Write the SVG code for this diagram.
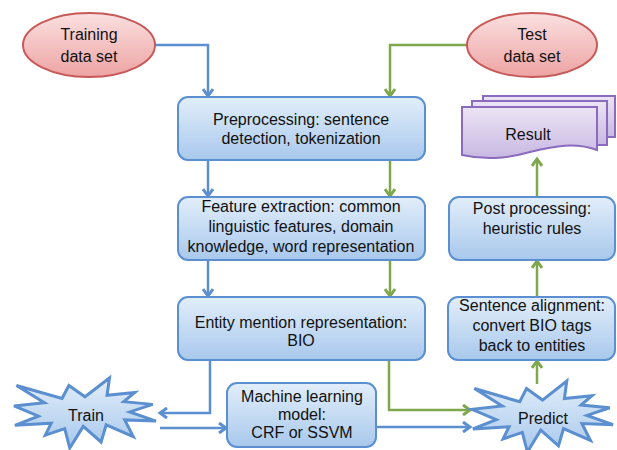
<svg xmlns="http://www.w3.org/2000/svg" width="617" height="450" viewBox="0 0 617 450">
<defs>
<linearGradient id="gBlue" x1="0" y1="0" x2="0" y2="1"><stop offset="0" stop-color="#e2eefa"/><stop offset="1" stop-color="#a8c8ec"/></linearGradient>
<linearGradient id="gPink" x1="0" y1="0" x2="0" y2="1"><stop offset="0" stop-color="#fbe0e0"/><stop offset="1" stop-color="#eda3a3"/></linearGradient>
<linearGradient id="gPurple" x1="0" y1="0" x2="0" y2="1"><stop offset="0" stop-color="#ece4f5"/><stop offset="1" stop-color="#c8b8e2"/></linearGradient>
<marker id="aBlue" markerWidth="12" markerHeight="12" refX="9" refY="6" orient="auto" markerUnits="userSpaceOnUse"><polyline points="2,1 9,6 2,11" fill="none" stroke="#5b8fd0" stroke-width="3"/></marker>
<marker id="aGreen" markerWidth="12" markerHeight="12" refX="9" refY="6" orient="auto" markerUnits="userSpaceOnUse"><polyline points="2,1 9,6 2,11" fill="none" stroke="#7ea74e" stroke-width="3"/></marker>
<polygon id="burstShape" vector-effect="non-scaling-stroke" points="108,58 145.22,0 141.55,53.25 183.8,44.57 167.02,73.15 210.97,81.37 176.07,104.75 216,132.9 168.37,129.42 181.45,180.95 140.2,144.57 132.47,197.37 105.32,149.35 84.85,216 77.15,156.27 47.62,176.17 56.67,139.37 1.35,145.87 37.22,117.75 0,86.15 46.27,76.17 3.7,22.95 73.12,63.2 83.52,22.95"/>
</defs>
<style>
.box{fill:url(#gBlue);stroke:#5b8fd0;stroke-width:2}
.ell{fill:url(#gPink);stroke:#c75a58;stroke-width:2}
.doc{fill:url(#gPurple);stroke:#8a6bbd;stroke-width:2}
.burst{fill:url(#gBlue);stroke:#5b8fd0;stroke-width:3;stroke-linejoin:miter}
.t{font-family:"Liberation Sans",Arial,sans-serif;font-size:16px;fill:#111;text-anchor:middle}
.cb{fill:none;stroke:#5b8fd0;stroke-width:2.5;marker-end:url(#aBlue)}
.cg{fill:none;stroke:#7ea74e;stroke-width:2.5;marker-end:url(#aGreen)}
</style>
<g id="connectors">
<path class="cb" d="M155,45 H208 V96"/>
<path class="cg" d="M467,45 H390 V96"/>
<path class="cb" d="M208,160 V196"/>
<path class="cg" d="M390,160 V196"/>
<path class="cb" d="M208,260 V296"/>
<path class="cg" d="M390,260 V296"/>
<path class="cb" d="M210,360 V413 H160"/>
<path class="cb" d="M160,428 H226"/>
<path class="cg" d="M389,360 V410 H470"/>
<path class="cb" d="M377,427 H470"/>
<path class="cg" d="M537,384 V361"/>
<path class="cg" d="M537,297 V261"/>
<path class="cg" d="M537,197 V159"/>
</g>
<g id="training"><ellipse class="ell" cx="89" cy="45" rx="66" ry="32"/><text class="t" x="89" y="40">Training</text><text class="t" x="89" y="62">data set</text></g>
<g id="test"><ellipse class="ell" cx="532" cy="45" rx="65" ry="32"/><text class="t" x="532" y="40">Test</text><text class="t" x="532" y="62">data set</text></g>
<g id="preprocessing"><rect class="box" x="178" y="97" width="247" height="63" rx="10"/><text class="t" x="301" y="125">Preprocessing: sentence</text><text class="t" x="301" y="144">detection, tokenization</text></g>
<g id="feature"><rect class="box" x="178" y="197" width="247" height="63" rx="10"/><text class="t" x="301" y="212">Feature extraction: common</text><text class="t" x="301" y="232">linguistic features, domain</text><text class="t" x="301" y="252">knowledge, word representation</text></g>
<g id="entity"><rect class="box" x="178" y="297" width="247" height="63" rx="10"/><text class="t" x="301" y="328">Entity mention representation:</text><text class="t" x="301" y="346">BIO</text></g>
<g id="ml"><rect class="box" x="227" y="383" width="149" height="64" rx="10"/><text class="t" x="302" y="402">Machine learning</text><text class="t" x="302" y="420">model:</text><text class="t" x="302" y="438">CRF or SSVM</text></g>
<g id="post"><rect class="box" x="449" y="197" width="166" height="63" rx="10"/><text class="t" x="532" y="214">Post processing:</text><text class="t" x="532" y="234">heuristic rules</text></g>
<g id="align"><rect class="box" x="448" y="297" width="167" height="63" rx="10"/><text class="t" x="532" y="311">Sentence alignment:</text><text class="t" x="532" y="331">convert BIO tags</text><text class="t" x="532" y="351">back to entities</text></g>
<g id="result">
<path class="doc" d="M483,96 H615 V137 L607,137 V101 H483 Z"/>
<path class="doc" d="M472,101 H607 V145 L597,145 V107 H472 Z"/>
<path class="doc" d="M462,107 H597 V150 C575,142 555,146 530,152 C505,159 485,160 462,155 Z"/>
<text class="t" x="528" y="140">Result</text>
</g>
<g id="train">
<use href="#burstShape" class="burst" transform="translate(14,378) scale(0.6574,0.3241)"/>
<text class="t" x="86" y="421">Train</text>
</g>
<g id="predict">
<use href="#burstShape" class="burst" transform="translate(472,381) scale(0.6528,0.3287)"/>
<text class="t" x="543" y="424">Predict</text>
</g>
</svg>
